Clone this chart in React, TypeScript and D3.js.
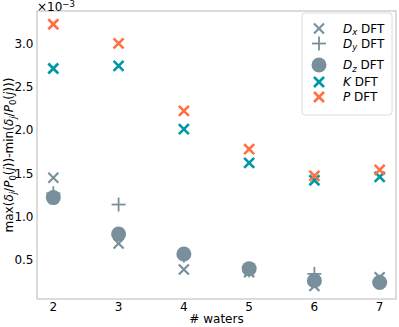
import React from 'react'
import * as d3 from 'd3'

// number of water molecules
const waters = [2, 3, 4, 5, 6, 7]

// max(δj/P0(j)) - min(δj/P0(j)) (in units of 1e-3)
const dxDFT = [1.45, 0.69, 0.39, 0.36, 0.2, 0.3]
const dyDFT = [1.27, 1.14, 0.55, 0.38, 0.34, 0.25]
const dzDFT = [1.22, 0.8, 0.57, 0.4, 0.26, 0.24]
const kDFT = [2.71, 2.74, 2.01, 1.62, 1.42, 1.46]
const pDFT = [3.22, 3.0, 2.22, 1.78, 1.47, 1.54]

const yTicks = [0.5, 1.0, 1.5, 2.0, 2.5, 3.0]

const W = 399
const H = 327
const margin = { left: 37, right: 3, top: 11, bottom: 28 }

const GRAY = '#78909c'
const TEAL = '#0097a7'
const ORANGE = '#ff7043'
const FONT = 'DejaVu Sans, sans-serif'

type Shape = 'x' | 'plus' | 'circle'

const Marker = ({ shape, color, cx, cy, bold }: { shape: Shape; color: string; cx: number; cy: number; bold?: boolean }) => {
  if (shape === 'circle') return <circle cx={cx} cy={cy} r={7.5} fill={color} />
  if (shape === 'plus') {
    const s = 7
    return (
      <g stroke={color} strokeWidth={1.8}>
        <line x1={cx - s} y1={cy} x2={cx + s} y2={cy} />
        <line x1={cx} y1={cy - s} x2={cx} y2={cy + s} />
      </g>
    )
  }
  const s = 5
  return (
    <g stroke={color} strokeWidth={bold ? 2.6 : 2.2}>
      <line x1={cx - s} y1={cy - s} x2={cx + s} y2={cy + s} />
      <line x1={cx - s} y1={cy + s} x2={cx + s} y2={cy - s} />
    </g>
  )
}

const series: { name: string; sub?: string; values: number[]; shape: Shape; color: string; bold?: boolean }[] = [
  { name: 'D', sub: 'x', values: dxDFT, shape: 'x', color: GRAY },
  { name: 'D', sub: 'y', values: dyDFT, shape: 'plus', color: GRAY },
  { name: 'D', sub: 'z', values: dzDFT, shape: 'circle', color: GRAY },
  { name: 'K', values: kDFT, shape: 'x', color: TEAL, bold: true },
  { name: 'P', values: pDFT, shape: 'x', color: ORANGE, bold: true },
]

// legend row offsets
const legendRows = [28.5, 43.5, 65, 82, 97]

const App = () => {
  const x = d3.scaleLinear().domain([1.75, 7.25]).range([margin.left, W - margin.right])
  const y = d3.scaleLinear().domain([0.05, 3.373]).range([H - margin.bottom, margin.top])
  const [x0, x1] = x.range()
  const [y0, y1] = y.range()
  const midY = (y0 + y1) / 2

  const frac = (sub: boolean) => (
    <>
      <tspan fontStyle="italic">δ</tspan>
      <tspan fontStyle="italic" fontSize={8.5} dy={2.5}>j</tspan>
      <tspan dy={-2.5}>/</tspan>
      <tspan fontStyle="italic">P</tspan>
      <tspan fontSize={8.5} dy={2.5}>0</tspan>
      <tspan dy={-2.5}>(</tspan>
      <tspan fontStyle="italic">j</tspan>
      <tspan>){sub ? ')-min(' : ')'}</tspan>
    </>
  )

  return (
    <svg width={W} height={H} style={{ position: 'absolute', left: 0, top: 0, background: '#fff' }} fontFamily={FONT}>
      {series.map((s, i) => (
        <g key={i}>
          {s.values.map((v, j) => (
            <Marker key={j} shape={s.shape} color={s.color} bold={s.bold} cx={x(waters[j])} cy={y(v)} />
          ))}
        </g>
      ))}

      <rect x={x0} y={y1} width={x1 - x0} height={y0 - y1} fill="none" stroke="#b8b8b8" strokeWidth={1} />

      {yTicks.map(t => (
        <text key={t} x={x0 - 3.5} y={y(t)} dy="0.36em" textAnchor="end" fontSize={12}>
          {t.toFixed(1)}
        </text>
      ))}
      {waters.map(w => (
        <text key={w} x={x(w)} y={y0 + 12} textAnchor="middle" fontSize={12}>
          {w}
        </text>
      ))}

      <text x={x0} y={11} fontSize={12}>
        ×10<tspan fontSize={8.5} dy={-4}>−3</tspan>
      </text>

      <text x={(x0 + x1) / 2} y={H - 4} textAnchor="middle" fontSize={12}>
        # waters
      </text>

      <text transform={`translate(13,${midY}) rotate(-90)`} textAnchor="middle" fontSize={12}>
        <tspan>max(</tspan>
        {frac(true)}
        {frac(false)}
        <tspan>)</tspan>
      </text>

      <rect x={302} y={13} width={90} height={102} rx={3} fill="#fff" fillOpacity={0.8} stroke="#dcdcdc" />
      {series.map((s, i) => (
        <g key={i}>
          <Marker shape={s.shape} color={s.color} bold={s.bold} cx={319} cy={legendRows[i]} />
          <text x={343} y={legendRows[i]} dy="0.36em" fontSize={12}>
            <tspan fontStyle="italic">{s.name}</tspan>
            {s.sub ? (
              <>
                <tspan fontStyle="italic" fontSize={8.5} dy={2.5}>{s.sub}</tspan>
                <tspan dy={-2.5}> DFT</tspan>
              </>
            ) : (
              <tspan> DFT</tspan>
            )}
          </text>
        </g>
      ))}
    </svg>
  )
}

export default App
